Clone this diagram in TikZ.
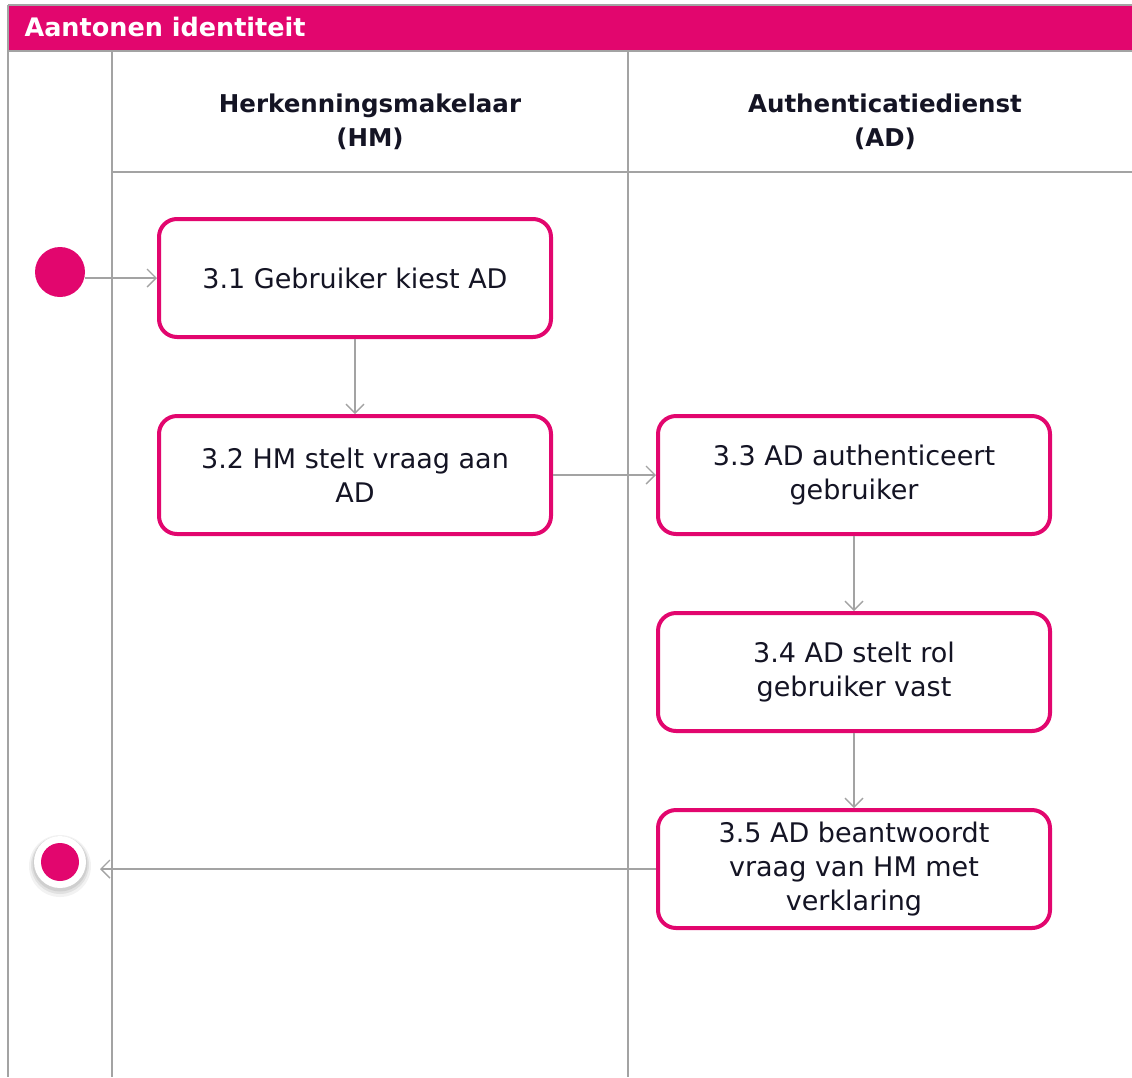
\documentclass[tikz,border=0pt]{standalone}
\usepackage{fontspec}
\setmainfont{DejaVu Sans}
\usetikzlibrary{arrows.meta}
\definecolor{pinkc}{HTML}{E2066E}
\definecolor{linec}{HTML}{A3A3A3}
\definecolor{txtc}{HTML}{141424}
\tikzset{
  lane/.style={draw=linec, line width=1.6pt},
  actbox/.style={draw=pinkc, line width=4pt, rounded corners=18pt, fill=white,
    minimum width=392pt, minimum height=118pt, align=center, text=txtc,
    font=\fontsize{27}{34}\selectfont, inner sep=0pt},
  flow/.style={draw=linec, line width=1.4pt, -{Straight Barb[length=9pt,width=18pt,line width=1.4pt]}},
  hdr/.style={align=center, text=txtc, font=\bfseries\fontsize{24.5}{34}\selectfont},
}
\begin{document}
\begin{tikzpicture}[x=1pt,y=-1pt]
\useasboundingbox (0,0) rectangle (1132,1077);
% title bar
\fill[pinkc] (8,6) rectangle (1132,51);
\draw[lane] (8,5) -- (1132,5);
\draw[lane] (8,51) -- (1132,51);
\node[anchor=west, text=white, font=\bfseries\fontsize{25.5}{30}\selectfont] (title) at (21,27) {Aantonen identiteit};
% lanes
\draw[lane] (8,5) -- (8,1077);
\draw[lane] (112,51) -- (112,1077);
\draw[lane] (628,51) -- (628,1077);
\draw[lane] (112,172) -- (1132,172);
\node[hdr] (hm) at (370,122) {Herkenningsmakelaar\\(HM)};
\node[hdr] (ad) at (885,122) {Authenticatiedienst\\(AD)};
% nodes
\node[circle, fill=pinkc, minimum size=50pt, inner sep=0pt] (start) at (60,272) {};
\node[actbox] (b1) at (355,278) {3.1 Gebruiker kiest AD};
\node[actbox] (b2) at (355,475) {3.2 HM stelt vraag aan\\AD};
\node[actbox] (b3) at (854,475) {3.3 AD authenticeert\\gebruiker};
\node[actbox] (b4) at (854,672) {3.4 AD stelt rol\\gebruiker vast};
\node[actbox] (b5) at (854,869) {3.5 AD beantwoordt\\vraag van HM met\\verklaring};
% end node with soft shadow
\fill[black, opacity=0.05] (60,866) circle (31pt);
\fill[black, opacity=0.07] (60,865) circle (29pt);
\fill[black, opacity=0.08] (60,864) circle (27.5pt);
\node[circle, fill=white, minimum size=52pt, inner sep=0pt] (endo) at (60,862) {};
\node[circle, fill=pinkc, minimum size=38pt, inner sep=0pt] (endi) at (endo.center) {};
\coordinate (endtip) at (100,869);
% flows
\draw[flow] (start.east |- 0,278) -- (b1.west |- 0,278);
\draw[flow] (b1.south) -- (b2.north);
\draw[flow] (b2.east) -- (b3.west);
\draw[flow] (b3.south) -- (b4.north);
\draw[flow] (b4.south) -- (b5.north);
\draw[flow] (b5.west) -- (endtip);
\end{tikzpicture}
\end{document}
